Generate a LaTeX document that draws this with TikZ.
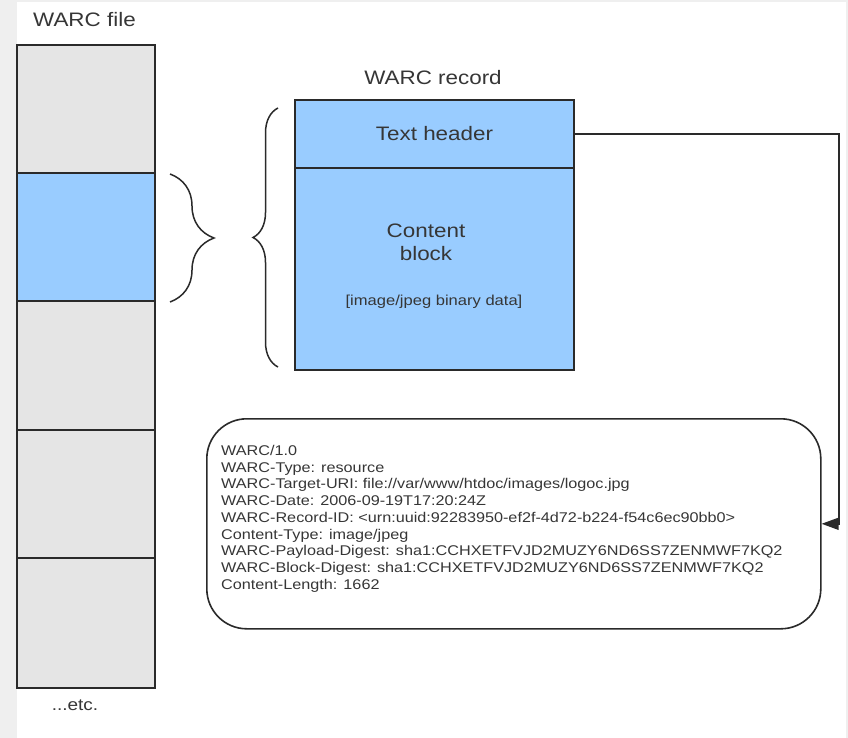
\documentclass[tikz,border=0pt]{standalone}
\usepackage{fontspec}
\setmainfont[FakeStretch=1.15]{Liberation Sans}
\usetikzlibrary{arrows.meta,decorations.pathreplacing}
\definecolor{bggray}{HTML}{EFEFEF}
\definecolor{cellgray}{HTML}{E5E5E5}
\definecolor{cellblue}{HTML}{99CCFF}
\definecolor{edgec}{HTML}{2A2A2A}
\definecolor{txt}{HTML}{363636}
\begin{document}
\begin{tikzpicture}[x=1pt,y=-1pt,
  cell/.style={draw=edgec,line width=1.6pt,minimum width=138pt,inner sep=0pt,anchor=north west,outer sep=0pt},
  label/.style={text=txt,font=\fontsize{19.5}{23}\selectfont,inner sep=0pt},
  bracec/.style={draw=edgec,line width=1.5pt,decorate},
  conn/.style={draw=edgec,line width=1.5pt}]
\useasboundingbox (0,0) rectangle (848,738);
\fill[bggray] (0,0) rectangle (848,738);
\fill[white] (17,2) rectangle (846,738);
% WARC file column
\node[label,anchor=west] (ftitle) at (33,20) {WARC file};
\node[cell,fill=cellgray,minimum height=128pt] (c1) at (17,45) {};
\node[cell,fill=cellblue,minimum height=128pt] (c2) at (17,173) {};
\node[cell,fill=cellgray,minimum height=129pt] (c3) at (17,301) {};
\node[cell,fill=cellgray,minimum height=128pt] (c4) at (17,430) {};
\node[cell,fill=cellgray,minimum height=130pt] (c5) at (17,558) {};
\node[label,font=\fontsize{16.5}{20}\selectfont] (etc) at (75,705) {...etc.};
% braces
\draw[bracec,decoration={brace,amplitude=44pt,aspect=0.5}] (170,174) -- (170,302);
\draw[bracec,decoration={brace,amplitude=25pt,aspect=0.5}] (278,367) -- (278,108);
% WARC record
\node[label] (rtitle) at (433,78) {WARC record};
\node[cell,fill=cellblue,minimum width=279pt,minimum height=68pt] (hdr) at (295,100) {};
\node[cell,fill=cellblue,minimum width=279pt,minimum height=202pt] (cb) at (295,168) {};
\node[label] (hdrtext) at (hdr.center) {Text header};
\node[label,align=center] (cbtext) at (426,242) {Content\\block};
\node[label,font=\fontsize{14.4}{17}\selectfont] (bin) at (434,302) {[image/jpeg binary data]};
% info box
\node[draw=edgec,line width=1.6pt,rounded corners=40pt,minimum width=614pt,minimum height=210pt,anchor=north west,inner sep=0pt] (info) at (206,418) {};
\node[anchor=north west,inner sep=0pt,align=left,text=txt,font=\fontsize{14.1}{16.75}\selectfont] (infotext) at (221,445) {WARC/1.0\\
WARC-Type: resource\\
WARC-Target-URI: file://var/www/htdoc/images/logoc.jpg\\
WARC-Date: 2006-09-19T17:20:24Z\\
WARC-Record-ID: <urn:uuid:92283950-ef2f-4d72-b224-f54c6ec90bb0>\\
Content-Type: image/jpeg\\
WARC-Payload-Digest: sha1:CCHXETFVJD2MUZY6ND6SS7ZENMWF7KQ2\\
WARC-Block-Digest: sha1:CCHXETFVJD2MUZY6ND6SS7ZENMWF7KQ2\\
Content-Length: 1662};
% connector
\coordinate (turn) at (839,134);
\draw[conn,-{Triangle[length=17pt,width=12pt]}] (hdr.east) -- (turn) |- (info.east);
\end{tikzpicture}
\end{document}
